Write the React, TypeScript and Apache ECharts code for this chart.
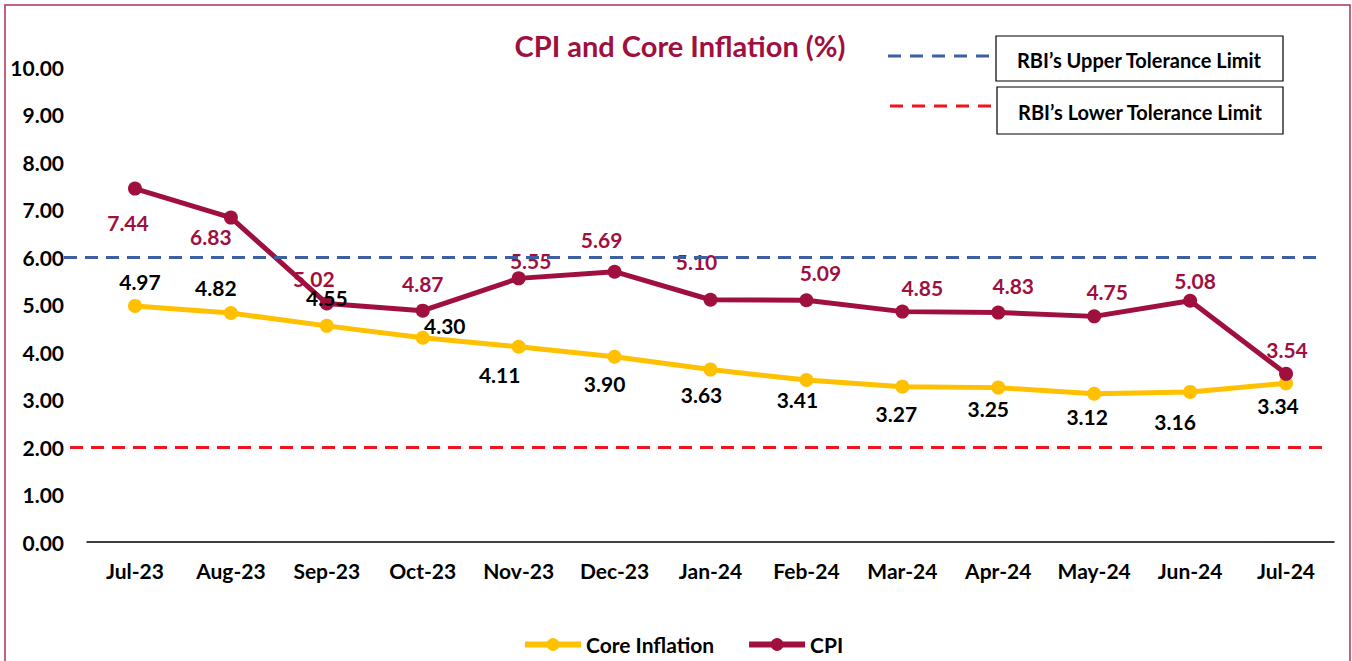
import React, { useEffect, useRef } from "react";
import * as echarts from "echarts";

const categories = ["Jul-23", "Aug-23", "Sep-23", "Oct-23", "Nov-23", "Dec-23", "Jan-24", "Feb-24", "Mar-24", "Apr-24", "May-24", "Jun-24", "Jul-24"];
const cpiValues = [7.44, 6.83, 5.02, 4.87, 5.55, 5.69, 5.10, 5.09, 4.85, 4.83, 4.75, 5.08, 3.54];
const coreValues = [4.97, 4.82, 4.55, 4.30, 4.11, 3.90, 3.63, 3.41, 3.27, 3.25, 3.12, 3.16, 3.34];
const upperLimit = 6;
const lowerLimit = 2;
const yMin = 0;
const yMax = 10;
const yInterval = 1;
const upperLabel = "RBI\u2019s Upper Tolerance Limit";
const lowerLabel = "RBI\u2019s Lower Tolerance Limit";
const titleText = "CPI and Core Inflation (%)";

// label placement offsets (style, not data)
const cpiLabelOffsets = [[-7, 34], [-20, 19], [-13, -25], [0, -27], [12, -18], [-13, -32], [-14, -38], [14, -28], [20, -24], [15, -27], [13, -25], [5, -20], [1, -24]];
const coreLabelOffsets = [[5, -24], [-15, -26], [0, -28], [22, -12], [-19, 28], [-10, 27], [-9, 25], [-9, 19], [-6, 27], [-10, 21], [-7, 23], [-15, 30], [-8, 22]];

const CRIMSON = "#A0103E";
const BORDER = "#B0305A";
const GOLD = "#FFC000";
const BLUE = "#3F5FA3";
const RED = "#F0141E";
const FONT = "Lato";

export default function App() {
  const ref = useRef<HTMLDivElement>(null);
  useEffect(() => {
    document.body.style.margin = "0";
    const chart = echarts.init(ref.current!, null, { renderer: "svg" });
    const labelBase = { fontFamily: FONT, fontWeight: "bold" as const, fontSize: 21 };
    const option: any = {
      animation: false,
      backgroundColor: "#fff",
      grid: [
        { left: 87, right: 18, top: 67, bottom: 119 },
        { left: 64, right: 30, top: 67, bottom: 119 },
      ],
      xAxis: [
        {
          type: "category",
          data: categories,
          gridIndex: 0,
          boundaryGap: true,
          axisLine: { lineStyle: { color: "#000", width: 1.5 } },
          axisTick: { show: false },
          axisLabel: { ...labelBase, color: "#000", margin: 18 },
        },
        { type: "value", gridIndex: 1, min: 0, max: 1, show: false },
      ],
      yAxis: [
        {
          type: "value",
          gridIndex: 0,
          min: yMin,
          max: yMax,
          interval: yInterval,
          axisLine: { show: false },
          axisTick: { show: false },
          splitLine: { show: false },
          axisLabel: { ...labelBase, color: "#000", margin: 23, formatter: (v: number) => v.toFixed(2) },
        },
        { type: "value", gridIndex: 1, min: yMin, max: yMax, show: false },
      ],
      legend: {
        data: [
          { name: "Core Inflation", lineStyle: { width: 6 } },
          { name: "CPI", lineStyle: { width: 6 } },
        ],
        left: 517,
        top: 629,
        itemWidth: 56,
        itemHeight: 16,
        itemGap: 32,
        lineStyle: { width: 6 },
        textStyle: { fontFamily: FONT, fontWeight: "bold", fontSize: 21, color: "#000" },
      },
      graphic: [
        {
          type: "rect",
          shape: { x: 5, y: 5, width: 1345, height: 720 },
          style: { fill: "none", stroke: BORDER, lineWidth: 1.5 },
          silent: true,
        },
        {
          type: "text",
          x: 680,
          y: 45,
          style: { text: titleText, fill: CRIMSON, font: `bold 29px ${FONT}`, textAlign: "center", textVerticalAlign: "middle" },
        },
        {
          type: "line",
          shape: { x1: 888, y1: 56, x2: 990, y2: 56 },
          style: { stroke: BLUE, lineWidth: 3, lineDash: [13, 9] },
        },
        {
          type: "line",
          shape: { x1: 890, y1: 106, x2: 993, y2: 106 },
          style: { stroke: RED, lineWidth: 3, lineDash: [13, 9] },
        },
        {
          type: "rect",
          shape: { x: 996, y: 36, width: 287, height: 45 },
          style: { fill: "#fff", stroke: "#000", lineWidth: 1.2 },
        },
        {
          type: "rect",
          shape: { x: 997, y: 87, width: 286, height: 47 },
          style: { fill: "#fff", stroke: "#000", lineWidth: 1.2 },
        },
        {
          type: "text",
          x: 1139,
          y: 60,
          style: { text: upperLabel, fill: "#000", font: `bold 20px ${FONT}`, textAlign: "center", textVerticalAlign: "middle" },
        },
        {
          type: "text",
          x: 1140,
          y: 112,
          style: { text: lowerLabel, fill: "#000", font: `bold 20px ${FONT}`, textAlign: "center", textVerticalAlign: "middle" },
        },
      ],
      series: [
        {
          name: "limits",
          type: "line",
          xAxisIndex: 1,
          yAxisIndex: 1,
          data: [],
          silent: true,
          markLine: {
            silent: true,
            symbol: ["none", "none"],
            label: { show: false },
            data: [
              { yAxis: upperLimit, lineStyle: { color: BLUE, width: 3, type: [13, 8] } },
              { yAxis: lowerLimit, lineStyle: { color: RED, width: 3, type: [13, 8], dashOffset: -6 } },
            ],
          },
        },
        {
          name: "Core Inflation",
          type: "line",
          data: coreValues.map((v, i) => ({
            value: v,
            label: { offset: coreLabelOffsets[i] },
          })),
          symbol: "circle",
          symbolSize: 14,
          lineStyle: { color: GOLD, width: 5 },
          itemStyle: { color: GOLD },
          label: {
            show: true,
            position: "inside",
            ...labelBase,
            color: "#000",
            formatter: (p: any) => Number(p.value).toFixed(2),
          },
        },
        {
          name: "CPI",
          type: "line",
          data: cpiValues.map((v, i) => ({
            value: v,
            label: { offset: cpiLabelOffsets[i] },
          })),
          symbol: "circle",
          symbolSize: 14,
          lineStyle: { color: CRIMSON, width: 5 },
          itemStyle: { color: CRIMSON },
          label: {
            show: true,
            position: "inside",
            ...labelBase,
            color: CRIMSON,
            formatter: (p: any) => Number(p.value).toFixed(2),
          },
        },
      ],
    };
    chart.setOption(option);
    return () => chart.dispose();
  }, []);
  return <div ref={ref} style={{ width: 1352, height: 661 }} />;
}
